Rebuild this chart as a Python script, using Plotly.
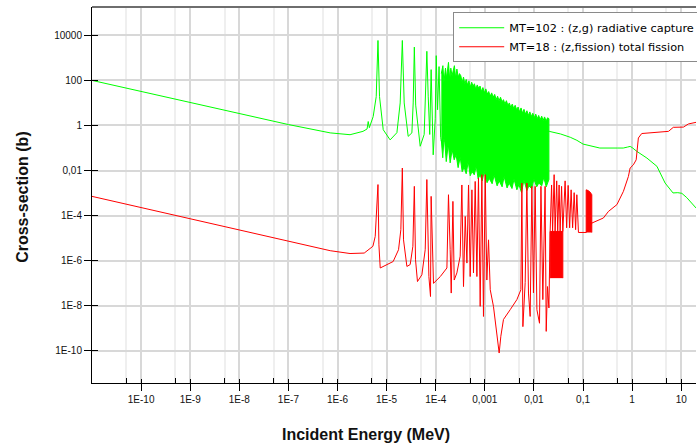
import plotly.graph_objects as go

# ---------------- data ----------------
# MT=102 radiative capture (green)
cap_E = [1e-11, 1e-10, 1e-9, 1e-8, 1e-7, 7.1e-7, 1.8e-6, 3.3e-6, 4.0e-6, 4.22e-6, 4.45e-6,
         5.33e-6, 6.14e-6, 6.67e-6, 7.17e-6, 8.53e-6, 1.18e-5, 1.62e-5, 1.89e-5, 2.09e-5,
         2.28e-5, 2.75e-5, 3.27e-5, 3.48e-5, 3.67e-5, 3.91e-5, 4.83e-5, 5.82e-5, 6.25e-5,
         6.6e-5, 7.03e-5, 7.55e-5, 8.07e-5, 8.89e-5, 9.77e-5, 1.025e-4, 1.09e-4, 1.17e-4,
         1.26e-4, 1.30e-4,
         2.05e-2, 3.5e-2, 5.5e-2, 7.5e-2, 0.1, 0.22, 0.5, 0.66, 0.8, 0.91, 1.0, 1.25, 2.0,
         3.2, 4.7, 6.8, 8.5, 10.3, 13.0, 20.0]
cap_xs = [100, 32, 10.5, 3.5, 1.1, 0.47, 0.39, 0.55, 0.7, 1.5, 0.8,
          2.5, 19, 5900, 19, 0.65, 0.23, 0.48, 10, 5900,
          10, 0.33, 0.47, 10, 3000, 8, 0.12, 0.4, 30,
          1950, 20, 0.4, 300, 0.05, 2, 1250, 5, 410,
          0.3, 0.2,
          0.55, 0.42, 0.3, 0.22, 0.15, 0.1, 0.1, 0.1, 0.11, 0.118, 0.105, 0.071, 0.036,
          0.0155, 0.0028, 0.00102, 0.00105, 0.00098, 0.00063, 0.00022]

# dense resonance band of the capture curve: upper and lower envelopes
band_top_E = [1.30e-4, 1.40e-4, 1.47e-4, 1.58e-4, 1.66e-4, 1.76e-4, 1.82e-4, 1.93e-4, 2.03e-4,
              2.15e-4, 2.27e-4, 2.40e-4, 2.55e-4, 2.70e-4, 2.87e-4, 3.05e-4, 3.25e-4, 3.45e-4,
              3.68e-4, 3.92e-4, 4.18e-4, 4.45e-4, 4.75e-4, 5.05e-4, 5.40e-4, 5.75e-4, 6.15e-4,
              6.55e-4, 7.0e-4, 7.5e-4, 8.0e-4, 8.55e-4, 9.15e-4, 9.8e-4, 1.05e-3, 1.12e-3,
              1.20e-3, 1.29e-3, 1.38e-3, 1.48e-3, 1.59e-3, 1.70e-3, 1.82e-3, 1.95e-3, 2.09e-3,
              2.24e-3, 2.40e-3, 2.57e-3, 2.75e-3, 2.95e-3, 3.16e-3, 3.38e-3, 3.62e-3, 3.88e-3,
              4.15e-3, 4.45e-3, 4.77e-3, 5.1e-3, 5.47e-3, 5.86e-3, 6.28e-3, 6.72e-3, 7.2e-3,
              7.72e-3, 8.27e-3, 8.86e-3, 9.5e-3, 1.02e-2, 1.09e-2, 1.17e-2, 1.25e-2, 1.34e-2,
              1.44e-2, 1.54e-2, 1.65e-2, 1.77e-2, 1.90e-2, 2.02e-2]
band_top_xs = [200, 450, 80, 350, 125, 320, 630, 100, 350,
               160, 280, 450, 125, 320, 140, 200, 160, 80,
               140, 70, 110, 63, 95, 50, 83, 56, 71,
               40, 63, 45, 56, 32, 48, 28, 42, 25,
               32, 20, 28, 18, 24, 14, 20, 12.6, 18,
               11.2, 14, 8.9, 12.6, 7.9, 10, 6.3, 8.9, 5.6,
               7.9, 5.0, 6.6, 4.0, 6.0, 3.5, 5.2, 3.2, 4.5,
               2.8, 4.0, 2.5, 3.5, 2.2, 3.2, 2.0, 2.8, 1.8,
               2.6, 1.66, 2.4, 1.58, 2.2, 2.0]
band_bot_E = [1.30e-4, 1.39e-4, 1.49e-4, 1.64e-4, 1.80e-4, 1.97e-4, 2.16e-4, 2.38e-4, 2.6e-4,
              2.86e-4, 3.15e-4, 3.46e-4, 3.8e-4, 4.17e-4, 4.6e-4, 5.04e-4, 5.5e-4, 6.1e-4,
              6.7e-4, 7.3e-4, 8.05e-4, 8.85e-4, 9.7e-4, 1.11e-3, 1.23e-3, 1.41e-3, 1.55e-3,
              1.78e-3, 1.96e-3, 2.25e-3, 2.47e-3, 2.84e-3, 3.12e-3, 3.58e-3, 3.93e-3, 4.5e-3,
              4.95e-3, 5.6e-3, 6.25e-3, 7.2e-3, 7.9e-3, 9.0e-3, 1.0e-2, 1.14e-2, 1.26e-2,
              1.44e-2, 1.59e-2, 1.78e-2, 2.02e-2]
band_bot_xs = [0.23, 0.037, 0.39, 0.025, 0.15, 0.022, 0.085, 0.03, 0.051,
               0.0135, 0.040, 0.0089, 0.014, 0.0072, 0.025, 0.0059, 0.009, 0.0065,
               0.016, 0.0044, 0.0065, 0.0035, 0.009, 0.0029, 0.0045, 0.0026, 0.0063,
               0.0021, 0.0035, 0.0019, 0.0055, 0.0017, 0.0028, 0.0016, 0.0042, 0.0014,
               0.0024, 0.00105, 0.0038, 0.0013, 0.0021, 0.0016, 0.0042, 0.0019, 0.0028,
               0.0021, 0.0050, 0.0019, 0.004]

# MT=18 total fission (red)
fis_E = [1e-11, 1e-10, 1e-9, 1e-8, 1e-7, 7.1e-7, 1.8e-6, 3.5e-6, 5.26e-6, 5.86e-6, 6.67e-6,
         6.97e-6, 7.41e-6, 8.53e-6, 1.36e-5, 1.75e-5, 1.95e-5, 2.09e-5, 2.21e-5, 2.59e-5,
         3.02e-5, 3.43e-5, 3.67e-5, 3.88e-5, 4.25e-5, 5.23e-5, 6.11e-5, 6.6e-5, 7.26e-5,
         7.83e-5, 8.07e-5, 9.01e-5, 1.24e-4, 1.69e-4, 1.82e-4, 1.97e-4, 2.07e-4, 2.24e-4,
         2.38e-4, 2.70e-4, 3.15e-4, 3.41e-4, 3.68e-4, 3.99e-4, 4.32e-4, 4.66e-4, 5.04e-4,
         5.46e-4, 5.88e-4, 6.37e-4, 6.90e-4, 7.43e-4, 8.05e-4, 8.71e-4, 9.39e-4, 1.02e-3,
         1.10e-3, 1.19e-3, 1.29e-3, 1.50e-3, 1.76e-3, 1.96e-3, 2.12e-3, 2.40e-3, 3.29e-3,
         4.50e-3, 5.43e-3, 5.69e-3, 5.96e-3, 6.64e-3, 7.19e-3, 7.75e-3, 8.39e-3, 9.08e-3,
         9.79e-3, 1.06e-2, 1.15e-2, 1.30e-2, 1.39e-2, 1.52e-2, 1.69e-2, 1.78e-2, 1.89e-2,
         2.02e-2, 2.14e-2, 2.29e-2, 2.40e-2, 2.58e-2, 2.70e-2, 2.91e-2, 3.05e-2, 3.26e-2,
         3.42e-2, 3.66e-2, 3.88e-2, 4.32e-2, 4.64e-2, 4.98e-2, 5.34e-2, 5.73e-2, 6.14e-2,
         6.6e-2, 7.07e-2, 7.48e-2, 8.07e-2, 0.102, 0.116,
         0.151, 0.26, 0.33, 0.49, 0.665, 0.84, 0.91, 1.06, 1.21, 1.34, 1.57, 2.32, 3.7,
         5.5, 6.9, 11.1, 14.0, 20.0]
fis_xs = [7.2e-4, 2.3e-4, 7.3e-5, 2.3e-5, 7.4e-6, 2.8e-6, 2.1e-6, 2.2e-6, 4.4e-6, 1.2e-5, 2.4e-3,
          5.1e-6, 4.8e-7, 5.6e-7, 9.3e-7, 3.1e-6, 2.4e-5, 1.3e-2, 8.5e-6, 5.6e-7,
          6.8e-7, 4.4e-6, 2.0e-3, 1.1e-6, 1.2e-7, 2.4e-7, 3.1e-6, 4.0e-3, 2.0e-7,
          2.6e-8, 7.2e-4, 1.0e-7, 2.0e-7, 4.8e-7, 8.5e-4, 3.1e-6, 3.7e-8, 4.3e-4,
          1.4e-7, 2.9e-7, 1.6e-6, 2.3e-3, 7.2e-8, 9.3e-5, 7.9e-7, 2.3e-3, 2.0e-7,
          1.4e-3, 2.9e-7, 3.3e-3, 2.0e-7, 4.7e-3, 9.5e-9, 6.6e-3, 3.4e-9, 6.6e-3,
          1.4e-7, 8.5e-6, 5.2e-8, 9.5e-9, 6.3e-10, 8.1e-11, 4.5e-10, 2.5e-9, 6.8e-9,
          1.9e-8, 5.2e-8, 2.8e-3, 1.2e-9, 1.1e-7, 2.8e-3, 3.7e-8, 3.4e-9, 2.0e-3,
          3.8e-8, 2.0e-3, 6.8e-9, 1.7e-9, 2.0e-3, 1.9e-8, 2.0e-3, 7.4e-10, 7.2e-8,
          8.1e-9, 2.0e-5, 2.3e-3, 2.0e-5, 6.6e-3, 2.0e-5, 3.5e-3, 2.0e-5, 2.3e-3,
          2.0e-5, 2.0e-3, 2.0e-5, 3.5e-3, 2.9e-5, 2.2e-3, 2.9e-5, 1.4e-3, 2.9e-5,
          1.05e-3, 2.4e-5, 8.5e-4, 1.8e-5, 1.8e-5, 1.8e-5,
          4.7e-5, 7.9e-5, 1.55e-4, 3.1e-4, 1.2e-3, 5.5e-3, 1.3e-2, 1.8e-2, 3.0e-2, 0.28,
          0.44, 0.47, 0.51, 0.55, 0.83, 0.85, 1.17, 1.38]

# solid blocks of unresolved fission resonances
blk1_E = [2.14e-2, 2.14e-2, 3.88e-2, 3.88e-2]
blk1_xs = [1.7e-7, 2.0e-5, 2.0e-5, 1.7e-7]
blk2_E = [0.116, 0.116, 0.127, 0.14, 0.151, 0.151]
blk2_xs = [1.8e-5, 1.4e-3, 1.3e-3, 1.1e-3, 8.5e-4, 1.8e-5]

x_tickvals = [1e-10, 1e-9, 1e-8, 1e-7, 1e-6, 1e-5, 1e-4, 1e-3, 1e-2, 1e-1, 1, 10]
x_ticktext = ["1E-10", "1E-9", "1E-8", "1E-7", "1E-6", "1E-5", "1E-4",
              "0,001", "0,01", "0,1", "1", "10"]
x_minorvals = [5e-11, 5e-10, 5e-9, 5e-8, 5e-7, 5e-6, 5e-5, 5e-4, 5e-3, 5e-2, 0.5, 5]
y_tickvals = [1e4, 1e2, 1, 1e-2, 1e-4, 1e-6, 1e-8, 1e-10]
y_ticktext = ["10000", "100", "1", "0,01", "1E-4", "1E-6", "1E-8", "1E-10"]

X_RANGE = [-11, 1.301]
Y_RANGE = [-11.42, 5.255]
GREEN = "#00ff00"
RED = "#ff0000"

fig = go.Figure()

fig.add_trace(go.Scatter(
    x=band_top_E + band_bot_E[::-1], y=band_top_xs + band_bot_xs[::-1],
    mode="lines", fill="toself", fillcolor=GREEN, line=dict(color=GREEN, width=1),
    showlegend=False, hoverinfo="skip"))
fig.add_trace(go.Scatter(
    x=cap_E, y=cap_xs, mode="lines", line=dict(color=GREEN, width=1),
    name="MT=102 : (z,g) radiative capture"))
fig.add_trace(go.Scatter(
    x=blk1_E, y=blk1_xs, mode="lines", fill="toself", fillcolor=RED,
    line=dict(color=RED, width=1), showlegend=False, hoverinfo="skip"))
fig.add_trace(go.Scatter(
    x=blk2_E, y=blk2_xs, mode="lines", fill="toself", fillcolor=RED,
    line=dict(color=RED, width=1), showlegend=False, hoverinfo="skip"))
fig.add_trace(go.Scatter(
    x=fis_E, y=fis_xs, mode="lines", line=dict(color=RED, width=1),
    name="MT=18 : (z,fission) total fission"))
# empty trace so the overlay axes (inner halves of the crossing ticks) are drawn
fig.add_trace(go.Scatter(x=[], y=[], xaxis="x2", yaxis="y2", showlegend=False,
                         hoverinfo="skip"))

tickfont = dict(family="Liberation Sans, Arial, sans-serif", size=10, color="#111")

fig.update_layout(
    width=697, height=446,
    margin=dict(l=92, r=1, t=7, b=63, autoexpand=False),
    paper_bgcolor="white", plot_bgcolor="white",
    showlegend=True,
    legend=dict(
        x=0.598, y=0.986, xanchor="left", yanchor="top",
        bgcolor="white", bordercolor="#8a8a8a", borderwidth=1,
        font=dict(family="DejaVu Sans, Verdana, sans-serif", size=11.3, color="#000"),
        tracegroupgap=0, itemwidth=45,
    ),
    xaxis=dict(
        type="log", range=X_RANGE, tickmode="array", automargin=False,
        tickvals=x_tickvals, ticktext=x_ticktext, tickfont=tickfont,
        ticks="outside", ticklen=7, tickcolor="black", tickwidth=1,
        showline=True, linecolor="black", linewidth=1,
        showgrid=True, gridcolor="#d8d8d8", gridwidth=1.5, zeroline=False,
        minor=dict(tickmode="array", tickvals=x_minorvals, ticks="inside", ticklen=5,
                   tickcolor="black", showgrid=True, gridcolor="#efefef", gridwidth=1.5),
    ),
    yaxis=dict(
        type="log", range=Y_RANGE, tickmode="array", automargin=False,
        tickvals=y_tickvals, ticktext=y_ticktext, tickfont=tickfont,
        ticks="outside", ticklen=7, tickcolor="black", tickwidth=1,
        showline=True, linecolor="black", linewidth=1,
        showgrid=True, gridcolor="#d8d8d8", gridwidth=1.5, zeroline=False,
    ),
    xaxis2=dict(
        type="log", range=X_RANGE, overlaying="x", anchor="y2", side="bottom",
        tickmode="array", tickvals=x_tickvals, ticks="inside", ticklen=4,
        tickcolor="black", tickwidth=1, showticklabels=False, showgrid=False,
        showline=False, zeroline=False, automargin=False,
    ),
    yaxis2=dict(
        type="log", range=Y_RANGE, overlaying="y", anchor="x2", side="left",
        tickmode="array", tickvals=y_tickvals, ticks="inside", ticklen=6,
        tickcolor="black", tickwidth=1, showticklabels=False, showgrid=False,
        showline=False, zeroline=False, automargin=False,
    ),
    annotations=[
        dict(text="<b>Incident Energy (MeV)</b>", xref="paper", yref="paper",
             x=0.454, y=-0.1375, xanchor="center", yanchor="middle", showarrow=False,
             font=dict(family="Liberation Sans, Arial, sans-serif", size=16, color="#111")),
        dict(text="<b>Cross-section (b)</b>", xref="paper", yref="paper",
             x=-0.1153, y=0.496, xanchor="center", yanchor="middle", showarrow=False,
             textangle=-90,
             font=dict(family="Liberation Sans, Arial, sans-serif", size=16, color="#111")),
    ],
    shapes=[
        dict(type="line", xref="paper", yref="paper", x0=0, x1=1, y0=1, y1=1,
             line=dict(color="#6e6e6e", width=2)),
    ],
)

# remove the default page margin so the 697x446 figure fills the window exactly
fig.write_html("out.html", config={"displayModeBar": False},
               post_script="document.body.style.margin='0';document.body.style.overflow='hidden';")
